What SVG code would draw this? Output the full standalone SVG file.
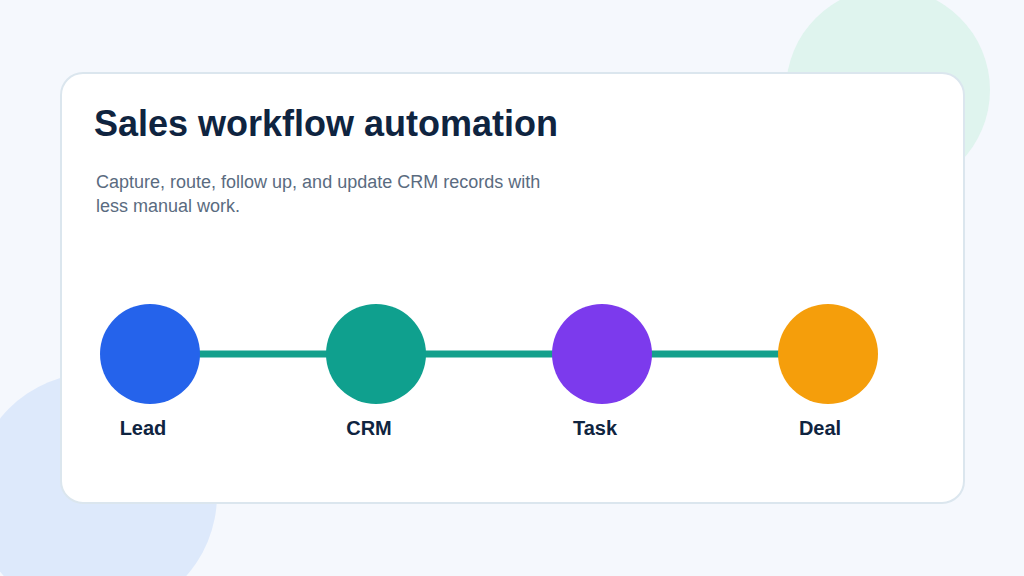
<svg xmlns="http://www.w3.org/2000/svg" width="1024" height="576" viewBox="0 0 1024 576">
<style>
.lbl{font-family:"Liberation Sans",Arial,sans-serif;font-weight:bold;font-size:20px;fill:#0f2440;text-anchor:middle}
.conn{stroke:#14a08c;stroke-width:7}
</style>
<rect width="1024" height="576" fill="#f5f8fd"/>
<circle cx="888" cy="90" r="102" fill="#dff4ee"/>
<circle cx="95" cy="495" r="122" fill="#dde9fb"/>
<rect x="61" y="73" width="903" height="430" rx="22" fill="#ffffff" stroke="#dbe6ee" stroke-width="2"/>
<text x="94" y="136" font-family="Liberation Sans,Arial,sans-serif" font-weight="bold" font-size="36" fill="#0f2440">Sales workflow automation</text>
<text font-family="Liberation Sans,Arial,sans-serif" font-size="18" fill="#5a6b80"><tspan x="96" y="188">Capture, route, follow up, and update CRM records with</tspan><tspan x="96" y="212">less manual work.</tspan></text>
<g id="connectors">
<line class="conn" x1="150" y1="354" x2="828" y2="354"/>
</g>
<g id="lead"><circle cx="150" cy="354" r="50" fill="#2563eb"/><text class="lbl" x="143" y="435">Lead</text></g>
<g id="crm"><circle cx="376" cy="354" r="50" fill="#0fa08e"/><text class="lbl" x="369" y="435">CRM</text></g>
<g id="task"><circle cx="602" cy="354" r="50" fill="#7c3aed"/><text class="lbl" x="595" y="435">Task</text></g>
<g id="deal"><circle cx="828" cy="354" r="50" fill="#f59e0b"/><text class="lbl" x="820" y="435">Deal</text></g>
</svg>
